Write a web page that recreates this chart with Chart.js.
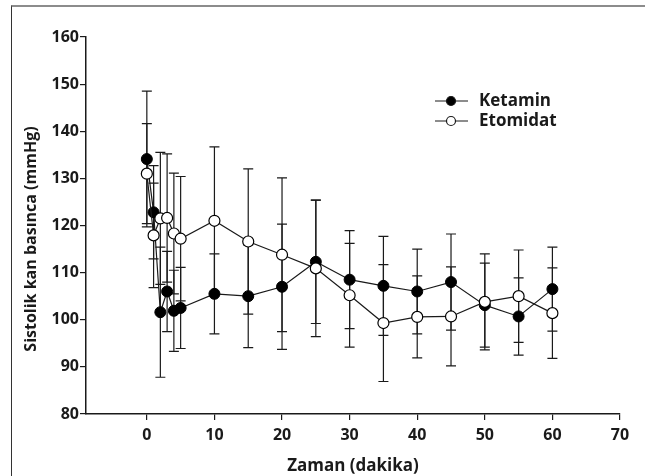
<!DOCTYPE html>
<html lang="tr">
<head>
    <meta charset="UTF-8">
    <title>Sistolik kan basinca</title>
    <script src="https://cdn.jsdelivr.net/npm/chart.js"></script>
    <style>
        html, body { margin: 0; padding: 0; background: #fff; overflow: hidden; }
        #wrap { position: relative; width: 645px; height: 476px; }
        #frame { position: absolute; left: 11px; top: 5px; width: 700px; height: 500px;
                 border-top: 2px solid #8c8c8c; border-left: 1px solid #333; pointer-events: none; }
    </style>
</head>
<body>
    <div id="wrap">
        <canvas id="bpChart" width="645" height="476"></canvas>
        <div id="frame"></div>
    </div>

    <script>
        // zaman noktalari (dakika)
        const times = [0, 1, 2, 3, 4, 5, 10, 15, 20, 25, 30, 35, 40, 45, 50, 55, 60];

        // Ketamin: ortalama ve SD
        const ketaminMean = [134.1, 122.8, 101.6, 106.0, 101.9, 102.5, 105.5, 105.0, 107.0, 112.3, 108.5, 107.2, 106.0, 108.0, 103.1, 100.7, 106.5];
        const ketaminSd   = [14.4, 9.9, 13.8, 8.5, 8.6, 8.6, 8.5, 10.9, 13.3, 13.1, 10.4, 10.5, 9.0, 10.2, 8.9, 8.2, 8.9];

        // Etomidat: ortalama ve SD
        const etomidatMean = [131.0, 117.9, 121.5, 121.6, 118.3, 117.2, 121.0, 116.6, 113.8, 110.9, 105.2, 99.3, 100.6, 100.7, 103.8, 105.0, 101.4];
        const etomidatSd   = [10.6, 11.1, 14.0, 13.6, 12.8, 13.2, 15.7, 15.4, 16.3, 14.5, 11.0, 12.4, 8.7, 10.5, 10.2, 9.8, 9.6];

        const xTicks = [0, 10, 20, 30, 40, 50, 60, 70];
        const yTicks = [80, 90, 100, 110, 120, 130, 140, 150, 160];

        const ink = '#1a1a1a';
        const fontFamily = '"Open Sans", "DejaVu Sans", sans-serif';

        const toPoints = (means) => times.map((t, i) => ({ x: t, y: means[i] }));

        // hata cubuklari
        const errorBars = {
            id: 'errorBars',
            beforeDatasetsDraw(chart) {
                const { ctx, scales: { x, y } } = chart;
                const sds = [ketaminSd, etomidatSd];
                const means = [ketaminMean, etomidatMean];
                ctx.save();
                ctx.strokeStyle = ink;
                ctx.lineWidth = 1.2;
                for (let s = 0; s < 2; s++) {
                    times.forEach((t, i) => {
                        const px = x.getPixelForValue(t);
                        const top = y.getPixelForValue(means[s][i] + sds[s][i]);
                        const bot = y.getPixelForValue(means[s][i] - sds[s][i]);
                        ctx.beginPath();
                        ctx.moveTo(px, top); ctx.lineTo(px, bot);
                        ctx.moveTo(px - 5, top); ctx.lineTo(px + 5, top);
                        ctx.moveTo(px - 5, bot); ctx.lineTo(px + 5, bot);
                        ctx.stroke();
                    });
                }
                ctx.restore();
            }
        };

        // lejant (cizgi + isaret) ve dikey eksen basligi
        const lineLegend = {
            id: 'lineLegend',
            afterDraw(chart) {
                const { ctx } = chart;
                const items = [
                    { label: 'Ketamin', fill: '#000', y: 101 },
                    { label: 'Etomidat', fill: '#fff', y: 121 }
                ];
                ctx.save();
                items.forEach(it => {
                    ctx.strokeStyle = ink;
                    ctx.lineWidth = 1.2;
                    ctx.beginPath();
                    ctx.moveTo(435, it.y); ctx.lineTo(468, it.y);
                    ctx.stroke();
                    ctx.beginPath();
                    ctx.arc(451, it.y, 4.5, 0, Math.PI * 2);
                    ctx.fillStyle = it.fill;
                    ctx.fill();
                    ctx.stroke();
                    ctx.fillStyle = ink;
                    ctx.font = 'bold 17px ' + fontFamily;
                    ctx.textBaseline = 'middle';
                    ctx.fillText(it.label, 479, it.y);
                });

                // y ekseni basligi
                ctx.translate(31, 239);
                ctx.rotate(-Math.PI / 2);
                ctx.font = 'bold 16px ' + fontFamily;
                ctx.textAlign = 'center';
                ctx.textBaseline = 'middle';
                ctx.fillStyle = ink;
                ctx.fillText('Sistolik kan basınca (mmHg)', 0, 0);
                ctx.restore();
            }
        };

        new Chart(document.getElementById('bpChart'), {
            type: 'scatter',
            data: {
                datasets: [{
                    label: 'Ketamin',
                    data: toPoints(ketaminMean),
                    showLine: true,
                    borderColor: ink,
                    borderWidth: 1.2,
                    pointRadius: 5.5,
                    pointBackgroundColor: '#000',
                    pointBorderColor: '#000',
                    pointBorderWidth: 1,
                    order: 2
                }, {
                    label: 'Etomidat',
                    data: toPoints(etomidatMean),
                    showLine: true,
                    borderColor: ink,
                    borderWidth: 1.2,
                    pointRadius: 5.5,
                    pointBackgroundColor: '#fff',
                    pointBorderColor: '#000',
                    pointBorderWidth: 1.2,
                    order: 1
                }]
            },
            options: {
                responsive: false,
                animation: false,
                events: [],
                layout: { padding: { top: 37, right: 25, left: 0, bottom: 0 } },
                plugins: {
                    legend: { display: false },
                    tooltip: { enabled: false }
                },
                scales: {
                    x: {
                        type: 'linear',
                        min: -9,
                        max: 70,
                        afterBuildTicks: (s) => { s.ticks = xTicks.map(v => ({ value: v })); },
                        afterFit: (s) => { s.height = 62; },
                        border: { display: true, color: ink, width: 1.5 },
                        grid: { display: true, drawOnChartArea: false, drawTicks: true, tickLength: 6, color: ink, lineWidth: 1.2 },
                        ticks: {
                            padding: 6,
                            color: ink,
                            font: { family: fontFamily, size: 16, weight: 'bold' }
                        },
                        title: {
                            display: true,
                            text: 'Zaman (dakika)',
                            color: ink,
                            padding: { top: 0, bottom: 0 },
                            font: { family: fontFamily, size: 17, weight: 'bold' }
                        }
                    },
                    y: {
                        min: 80,
                        max: 160,
                        afterBuildTicks: (s) => { s.ticks = yTicks.map(v => ({ value: v })); },
                        afterFit: (s) => { s.width = 86; },
                        border: { display: true, color: ink, width: 1.5 },
                        grid: { display: true, drawOnChartArea: false, drawTicks: true, tickLength: 6, color: ink, lineWidth: 1.2 },
                        ticks: {
                            padding: 1,
                            color: ink,
                            font: { family: fontFamily, size: 16, weight: 'bold' }
                        }
                    }
                }
            },
            plugins: [errorBars, lineLegend]
        });
    </script>
</body>
</html>
